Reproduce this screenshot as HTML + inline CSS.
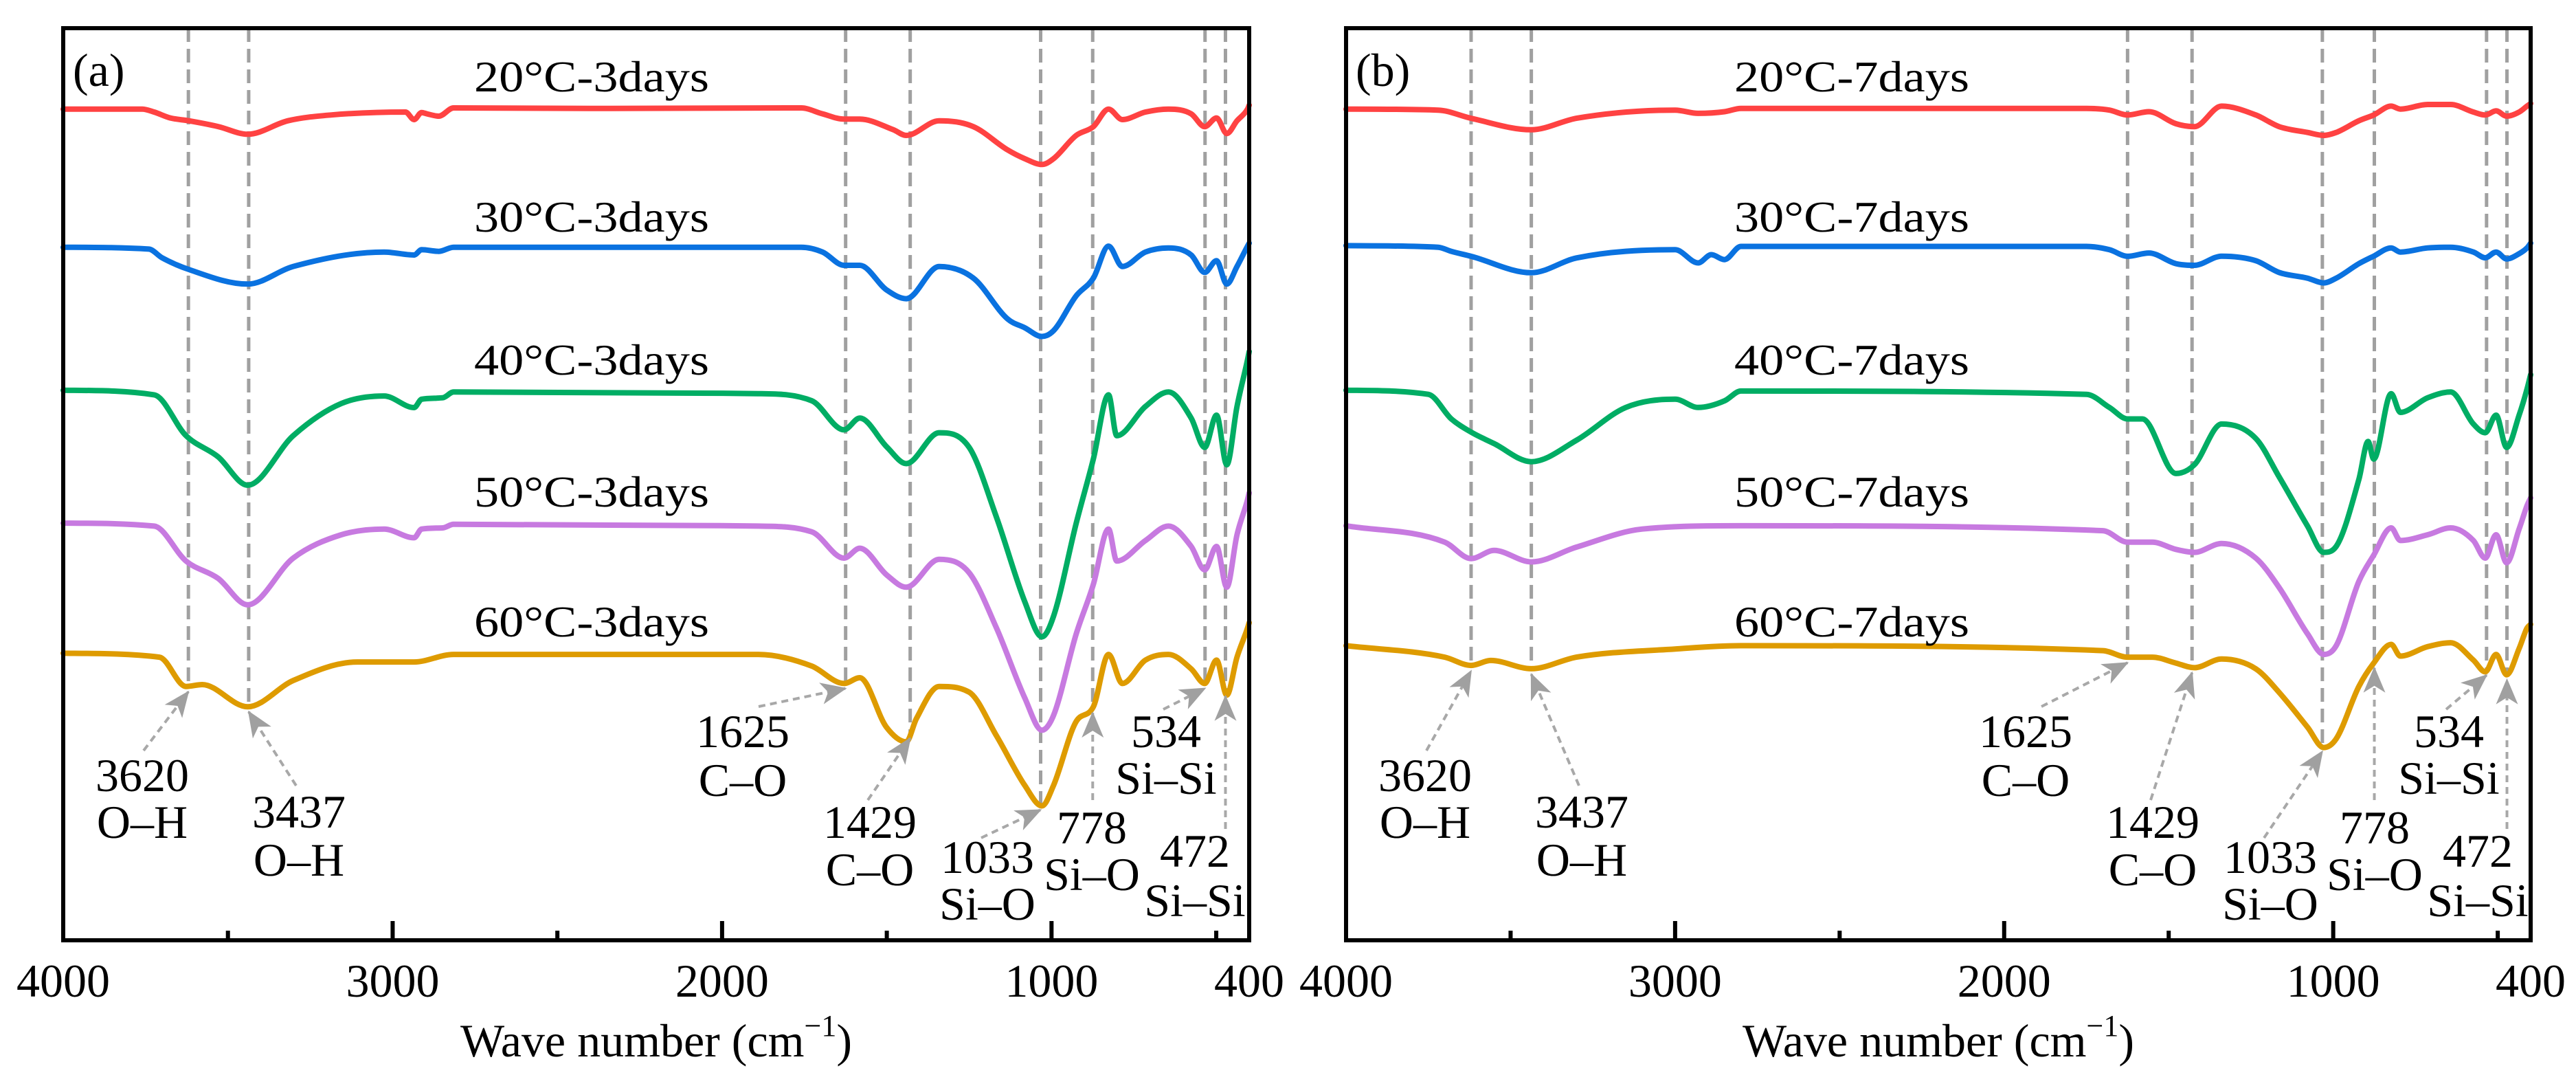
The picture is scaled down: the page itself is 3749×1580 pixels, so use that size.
<!DOCTYPE html>
<html><head><meta charset="utf-8"><style>
html,body{margin:0;padding:0;background:#fff;}
svg{display:block;}
svg text{font-family:"Liberation Serif","Times New Roman",Times,serif;}
</style></head><body>
<svg id="chart" width="3749" height="1580" viewBox="0 0 3749 1580" xmlns="http://www.w3.org/2000/svg" font-family="Liberation Serif, Times New Roman, serif">
<defs>
<marker id="ah" markerUnits="userSpaceOnUse" markerWidth="40" markerHeight="40" viewBox="0 0 40 40" refX="36" refY="20" orient="auto">
<path d="M0,4 L38,20 L0,36 L10,20 Z" fill="#a0a0a0"/>
</marker>
</defs>
</svg>
<script>
// ---- data (absorbance-offset, arbitrary units; larger = lower on plot) ----
const wnTicksMajor = [4000,3000,2000,1000,400];
const wnTicksMinor = [3500,2500,1500,500];
const seriesColors = ["#ff4242","#0a72e0","#00ad64","#c77ae0","#de9b00"];
const namesA = ["20°C-3days","30°C-3days","40°C-3days","50°C-3days","60°C-3days"];
const namesB = ["20°C-7days","30°C-7days","40°C-7days","50°C-7days","60°C-7days"];
const peakLabels = ["3620","3437","1625","1429","1033","778","534","472"];
const bondLabels = ["O–H","O–H","C–O","C–O","Si–O","Si–O","Si–Si","Si–Si"];
const peakLineWn = [3620,3437,1625,1429,1033,875,534,472];

const A20=[[4000,66.4],[3760,66.4],[3724,68.2],[3675,71.8],[3619,73.5],[3530,77],[3440,81.7],[3318,73.5],[3188,70],[2961,68.2],[2935,72.8],[2912,68.5],[2896,69.3],[2860,70.7],[2815,65.7],[2400,66],[1760,65.7],[1695,69.3],[1630,72.5],[1582,72.5],[1480,79],[1441,82.4],[1341,73.5],[1237,77.1],[1133,91.3],[1081,96.6],[1029,100.1],[994,96.6],[925,82.4],[873,77.1],[827,66.4],[785,72.8],[715,68.2],[645,66.4],[576,69.3],[535,77.1],[499,71.8],[468,81.3],[437,73.5],[405,66.4],[400,64]];
const A30=[[4000,150.5],[3740,151.6],[3700,156.9],[3619,164],[3440,172.9],[3302,162.2],[3026,153.4],[2935,155.2],[2912,152],[2860,153],[2815,150.5],[1760,150.5],[1695,153.4],[1630,161.5],[1582,161.5],[1501,176.4],[1441,181.8],[1341,162.2],[1237,169.3],[1133,194.2],[1081,199.5],[1029,204.8],[994,201.3],[925,180],[873,169.3],[827,149.8],[785,162.2],[715,153.4],[645,150.9],[576,155.2],[535,165.8],[499,158.7],[468,172.9],[437,162.2],[405,149.8],[400,148]];
const A40=[[4000,237.5],[3724,240.3],[3627,265.2],[3530,278],[3440,295.3],[3302,265.2],[3156,245.6],[3026,241],[2935,248.1],[2912,243],[2848,242.1],[2815,238.6],[1890,239.6],[1728,243.9],[1630,261.6],[1582,254.5],[1500,272],[1441,282.2],[1341,263.4],[1250,272.3],[1167,314.9],[1081,366.3],[1029,387.6],[994,375.2],[925,318.4],[873,279.4],[827,240.3],[802,265.2],[715,247.4],[645,238.6],[576,254.5],[535,272.3],[499,252.7],[468,282.9],[437,247.4],[405,219],[400,214]];
const A50=[[4000,318.4],[3724,320.2],[3627,341.5],[3530,352],[3440,368.1],[3302,339.7],[3156,325.5],[3026,322],[2935,327.3],[2912,322],[2848,321.3],[2815,319.1],[1890,320.2],[1728,323.7],[1630,339.7],[1582,333.7],[1500,350],[1441,357.4],[1341,340.4],[1250,348.6],[1167,382.3],[1081,424.9],[1029,444.4],[994,435.5],[925,385.8],[873,355.7],[827,322],[802,341.5],[715,329],[645,320.2],[576,332.6],[535,346.8],[499,332.6],[468,357.4],[437,325.5],[405,304.2],[400,300]];
const A60=[[4000,397.6],[3708,400],[3627,417.8],[3578,416.7],[3440,430.2],[3302,414.2],[3107,402.9],[2935,402.9],[2815,398.3],[1890,398.3],[1728,405.4],[1630,416],[1582,412.5],[1501,442.6],[1441,451.5],[1410,437.3],[1341,417.8],[1250,421.3],[1167,447.9],[1081,478.1],[1029,490.5],[994,478.1],[925,439.1],[873,430.2],[827,398.3],[785,416],[715,401.8],[645,398.3],[576,407.1],[535,416],[499,401.8],[468,423.1],[437,400],[405,382.3],[400,379]];

const B20=[[4000,66.4],[3720,67],[3620,72],[3437,79],[3300,72],[3000,67],[2930,69],[2850,68],[2800,66],[1750,66],[1680,67],[1625,70],[1560,68],[1478,75.3],[1422,77.1],[1339,64.6],[1235,70],[1165,77],[1078,80.6],[1029,82.4],[991,80.6],[922,73.5],[877,70],[824,64.6],[796,66.4],[713,63.6],[643,63.6],[574,68.2],[538,70],[505,67.5],[473,70.7],[435,68.2],[411,64.6],[400,63]];
const B30=[[4000,149.5],[3720,150.5],[3680,153],[3620,156],[3437,166],[3300,157],[3000,152],[2930,160],[2890,155],[2850,158],[2800,150],[1750,150],[1680,152],[1625,156],[1560,154],[1478,160.5],[1422,161.5],[1339,155.9],[1235,158.7],[1165,165.8],[1078,169.3],[1029,172.2],[991,169.3],[922,160.5],[877,155.9],[824,150.9],[796,153.4],[713,150.9],[643,150.5],[574,153.4],[538,156.9],[505,153.4],[473,157.6],[435,154.4],[411,150.9],[400,148]];
const B40=[[4000,237.5],[3750,240],[3680,255],[3620,263],[3550,270],[3437,281],[3300,268],[3150,248],[3000,243],[2930,248],[2850,244],[2800,238],[1750,240],[1680,248],[1625,255],[1580,255],[1478,288.2],[1422,282.9],[1339,258.1],[1235,266.9],[1165,290],[1078,320.2],[1029,336.2],[991,332.6],[922,291.8],[894,268.7],[877,279.4],[824,239.6],[796,251],[713,242.1],[643,238.6],[574,258.1],[538,263.4],[505,252.7],[473,272.3],[435,252.7],[411,236.8],[400,228]];
const B50=[[4000,320],[3700,330],[3620,340],[3550,335],[3437,342],[3300,333],[3100,322],[2800,320],[1700,323],[1625,330],[1550,330],[1478,334.4],[1422,336.2],[1339,330.8],[1235,339.7],[1165,357.4],[1078,385.8],[1029,398.3],[991,393],[922,353.9],[877,337.9],[824,321.3],[796,329],[713,325.5],[643,321.3],[574,329],[538,339.7],[505,325.5],[473,342.5],[435,322],[411,307.8],[400,303]];
const B60=[[4000,393],[3700,400],[3620,405],[3560,402],[3437,407],[3300,400],[3000,395],[2800,393],[1700,396],[1625,400],[1550,400],[1478,403.6],[1422,406.4],[1339,401.1],[1235,407.1],[1165,421.3],[1078,442.6],[1029,455],[991,449.7],[922,417.8],[877,403.6],[824,392.2],[796,399.3],[713,393.6],[643,391.2],[574,401.8],[538,408.9],[505,398.3],[473,410.7],[435,394.7],[411,382.3],[400,380]];

// ---- layout ----
const NS="http://www.w3.org/2000/svg";
const svg=document.getElementById('chart');
const TOP=41, BOT=1368;
const FONT='"Liberation Serif","Times New Roman",Times,serif';
const panels=[
 {x0:92,x1:1818,tag:"(a)",names:namesA,data:[A20,A30,A40,A50,A60],key:"a"},
 {x0:1959,x1:3683,tag:"(b)",names:namesB,data:[B20,B30,B40,B50,B60],key:"b"}
];
const titleBase=[133,337,545,737,926];
const annLx=[115,343,989,1174,1345,1497,1605,1647];
const annNumY=[1151,1204,1087,1219,1270,1227,1087,1261];
const annBondY=[1219,1274,1158,1288,1338,1295,1155,1333];
const annStart=[[117,1092],[339,1143],[1012,1028],[1171,1164],[1336,1219],[0,1164],[1601,1032],[0,1206]];
const vertical=[false,false,false,false,false,true,false,true];

function mk(tag,attrs,parent){const e=document.createElementNS(NS,tag);for(const k in attrs)e.setAttribute(k,attrs[k]);(parent||svg).appendChild(e);return e;}
function yScale(v){return v*1580/661;}
function interp(arr,wn){for(let i=0;i<arr.length-1;i++){const a=arr[i],b=arr[i+1];if(wn<=a[0]&&wn>=b[0]){const t=(a[0]-wn)/(a[0]-b[0]);return a[1]+t*(b[1]-a[1]);}}return arr[arr.length-1][1];}
// monotone cubic (Fritsch-Carlson) path, x ascending
function monoPath(pts){
 const n=pts.length, d=[], m=[];
 for(let i=0;i<n-1;i++) d.push((pts[i+1][1]-pts[i][1])/(pts[i+1][0]-pts[i][0]));
 m[0]=d[0]; m[n-1]=d[n-2];
 for(let i=1;i<n-1;i++){ m[i]=(d[i-1]*d[i]<=0)?0:(d[i-1]+d[i])/2; }
 for(let i=0;i<n-1;i++){
  if(d[i]===0){m[i]=0;m[i+1]=0;continue;}
  const a=m[i]/d[i], b=m[i+1]/d[i], s=a*a+b*b;
  if(s>9){const t=3/Math.sqrt(s);m[i]=t*a*d[i];m[i+1]=t*b*d[i];}
 }
 let p="M"+pts[0][0].toFixed(1)+","+pts[0][1].toFixed(1);
 for(let i=0;i<n-1;i++){
  const h=(pts[i+1][0]-pts[i][0])/3;
  p+=" C"+(pts[i][0]+h).toFixed(1)+","+(pts[i][1]+m[i]*h).toFixed(1)+" "+(pts[i+1][0]-h).toFixed(1)+","+(pts[i+1][1]-m[i+1]*h).toFixed(1)+" "+pts[i+1][0].toFixed(1)+","+pts[i+1][1].toFixed(1);
 }
 return p;
}

panels.forEach(P=>{
 const xScale=wn=>P.x0+(4000-wn)/(4000-400)*(P.x1-P.x0);
 const g=mk('g',{"font-family":FONT});
 
 
 const orange=P.data[4];
 peakLineWn.forEach((wn,i)=>{
  const x=xScale(wn);
  const l=mk('line',{x1:x,y1:TOP,x2:x,y2:yScale(interp(orange,wn)),stroke:"#a0a0a0","stroke-width":5,"stroke-dasharray":"20 10"},g);
  
  
 });
 P.data.forEach((s,i)=>{
  const pts=s.map(p=>[xScale(p[0]),yScale(p[1])]);
  const path=mk('path',{d:monoPath(pts),fill:"none",stroke:seriesColors[i],"stroke-width":8,"stroke-linejoin":"round","stroke-linecap":"round"},g);
  
  
  const t=mk('text',{x:P.key==='a'?861:2695,y:titleBase[i],"font-size":64,"font-family":FONT,"text-anchor":"middle",textLength:342,lengthAdjust:"spacingAndGlyphs"},g);
  t.textContent=P.names[i];
  
  
 });
 peakLabels.forEach((lab,i)=>{
  const cx=P.x0+annLx[i];
  const t1=mk('text',{x:cx,y:annNumY[i],"font-size":68,"font-family":FONT,"text-anchor":"middle"},g);
  t1.textContent=lab;
  
  
  const t2=mk('text',{x:cx,y:annBondY[i],"font-size":68,"font-family":FONT,"text-anchor":"middle"},g);
  t2.textContent=bondLabels[i];
  
  
  const ex=xScale(peakLineWn[i]);
  const ey=yScale(interp(orange,peakLineWn[i]))+8;
  const sx=vertical[i]?ex:P.x0+annStart[i][0];
  const a=mk('line',{x1:sx,y1:annStart[i][1],x2:ex,y2:ey,stroke:"#a8a8a8","stroke-width":4,"stroke-dasharray":"10 7","marker-end":"url(#ah)"},g);
  
  
 });
 const fr=mk('rect',{x:P.x0,y:TOP,width:P.x1-P.x0,height:BOT-TOP,fill:"none",stroke:"#000","stroke-width":6},g);
 
 
 wnTicksMajor.forEach(wn=>{
  const x=xScale(wn);
  if(wn!==4000&&wn!==400){const tk=mk('line',{x1:x,y1:BOT,x2:x,y2:BOT-28,stroke:"#000","stroke-width":6},g);
   
   }
  const tl=mk('text',{x:x,y:1450,"font-size":68,"font-family":FONT,"text-anchor":"middle"},g);
  tl.textContent=String(wn);
  
  
 });
 wnTicksMinor.forEach(wn=>{
  const x=xScale(wn);
  const tk=mk('line',{x1:x,y1:BOT,x2:x,y2:BOT-14,stroke:"#000","stroke-width":6},g);
  
  
 });
 const at=mk('text',{x:(P.x0+P.x1)/2,y:1537,"font-size":68,"font-family":FONT,"text-anchor":"middle"},g);
 
 
 at.appendChild(document.createTextNode("Wave number (cm"));
 const sup=mk('tspan',{dy:-30,"font-size":44},at);
 sup.textContent="−1";
 const cl=mk('tspan',{dy:30},at);
 cl.textContent=")";
 const tg=mk('text',{x:P.x0+14,y:125,"font-size":68,"font-family":FONT},g);
 tg.textContent=P.tag;
 
 
});
</script>
</body></html>
